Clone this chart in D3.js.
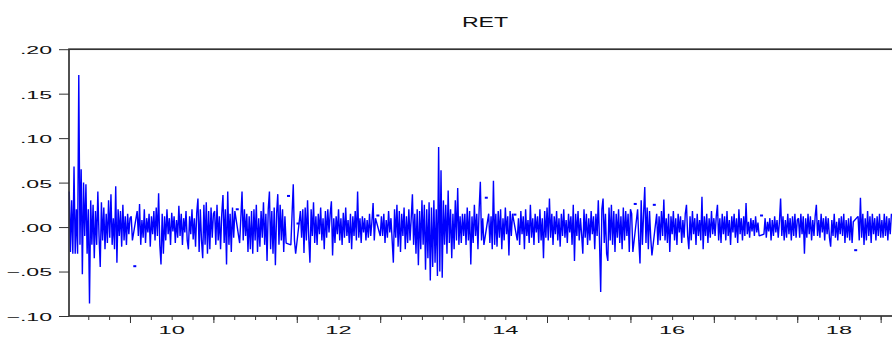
<!DOCTYPE html>
<html>
<head>
<meta charset="utf-8">
<script src="https://cdn.jsdelivr.net/npm/d3@7"></script>
<style>
  body { margin: 0; background: #fff; }
  svg text { font-family: "Liberation Sans", Arial, sans-serif; fill: #111; }
</style>
</head>
<body>
<div id="chart"></div>
<script>
// Daily returns (one value ~ every 1/70 year, null = missing obs)
const obsPerYear = 70;
const firstObs = 2009.272;

const ret2009 = [
  .04, -.028, .03, -.03, .068, -.03, .02, -.03, .171, -.02,
  .065, -.053, .05, -.01, .048, -.03, .02, -.086, .03, -.02,
  .025, -.035, .018, -.02, .04, -.01, -.045, .028, -.015, .022,
  -.025, .015, -.018, .03, -.012, .037, -.02, .01, -.025, .046,
  -.04, .02, -.01, .018, -.022, .025, -.015, .012, -.02, .015,
  -.008, .01
];
const ret2010 = [
  .012, -.015, null, -.044, null, .018, -.01, .026, -.02, .008,
  -.012, .02, -.018, .01, -.006, .015, -.022, .012, -.008, .018,
  -.015, .022, -.01, .038, -.02, -.042, .015, -.03, .012, -.015,
  .02, -.008, .01, -.02, .016, -.005, .012, -.018, .008, -.012,
  .024, -.01, .015, -.02, .01, -.006, .018, -.015, -.025, .012,
  -.008, .02, -.014, .01, -.022, .016, .032, -.028, .02, -.015,
  -.035, .025, -.02, .028, -.03, .018, -.025, .022, -.012, .015
];
const ret2011 = [
  .018, -.02, .025, -.015, .012, -.025, .015, .036, -.018, .02,
  -.042, .04, -.02, .015, -.028, .022, -.012, .018, null, .02,
  null, -.018, .01, .04, -.015, .02, -.01, .015, -.028, .012,
  -.025, .018, -.03, .02, -.015, .025, -.028, .01, -.022, .018,
  -.012, .028, -.02, .015, -.038, .02, .04, -.025, .018, -.03,
  .022, -.043, .015, .037, -.02, .025, -.015, .02, -.028, .012,
  -.018, null, .035, null, -.02, .015, .048, -.015, -.03, null
];
const ret2012 = [
  .004, null, .018, -.012, .02, -.029, .022, -.015, .03, -.012,
  -.04, .02, -.01, .028, -.018, .012, -.02, .015, -.008, .022,
  -.015, .01, -.025, .018, -.012, .02, -.006, .015, .029, -.032,
  .01, -.018, .012, -.008, .02, -.015, .01, -.02, .016, -.012,
  .022, -.01, .008, -.018, .015, -.025, .012, -.01, .018, -.015,
  .04, -.012, .01, -.018, .012, -.006, .01, -.015, .008, -.012,
  .015, -.01, .006, .027, -.015, .01, null, .013, null, -.01
];
const ret2013 = [
  .012, -.01, .015, -.018, .008, -.012, .018, -.006, .01, -.015,
  -.04, .02, -.012, .025, -.022, .018, -.028, .015, -.01, .022,
  -.025, .012, -.018, .02, -.015, .01, .037, -.02, .015, -.03,
  .02, -.043, .018, -.025, .03, -.02, .025, -.048, .02, -.035,
  .028, -.06, .022, -.045, .03, -.04, .02, -.055, .09, -.05,
  .064, -.057, .03, -.02, .025, -.03, .041, -.018, .02, -.035,
  .015, -.025, .03, -.015, .044, -.02, .012, -.018, .015, -.01
];
const ret2014 = [
  .015, -.02, .022, -.015, .018, -.042, .012, -.018, .025, -.01,
  .015, -.025, .02, .051, -.015, .01, -.02, null, .033, null,
  .015, -.018, .012, -.025, .052, -.02, .015, -.022, .018, -.012,
  .02, -.025, .01, -.015, .022, -.008, .012, -.032, .018, -.01,
  .015, null, .014, null, -.015, .01, -.02, .018, -.008, .012,
  -.025, .02, -.01, .008, -.018, .025, -.012, .01, -.02, .015,
  -.006, .012, -.018, .02, -.015, .01, -.035, .018, -.012, .022
];
const ret2015 = [
  -.015, .032, -.012, .015, -.02, .012, -.008, .018, -.015, .01,
  -.022, .015, -.01, .02, -.012, .008, -.018, .015, -.006, .012,
  -.02, .025, -.038, .015, -.01, .018, -.015, .01, -.008, -.03,
  .02, -.012, .015, -.02, .01, -.015, .018, -.008, .012, -.025,
  .015, -.01, .03, -.015, -.073, .02, .032, -.018, .015, -.03,
  -.038, .022, -.015, .025, -.02, .018, -.028, .015, -.012, .02,
  -.018, .012, -.025, .022, -.015, .018, -.01, .015, -.028, .02
];
const ret2016 = [
  .015, -.028, null, .026, null, .02, -.015, -.041, .03, -.02,
  .015, .045, -.018, .022, -.025, .018, -.012, -.032, null, .025,
  null, .015, -.02, .012, -.015, .018, -.01, .031, -.015, .01,
  -.018, .015, -.028, .012, -.008, .018, -.015, .01, -.02, .015,
  -.006, .012, -.018, .008, -.012, .015, .025, -.01, -.025, .012,
  -.015, .018, -.008, .01, -.02, .015, -.01, .008, -.015, .034,
  -.025, .012, -.01, .015, -.018, .01, -.012, .018, -.008, .01
];
const ret2017 = [
  -.01, .012, .025, -.015, .01, -.018, .015, -.008, .012, -.015,
  .018, -.01, .008, -.02, .012, -.006, .015, -.012, .01, -.018,
  .02, -.008, .01, -.015, .012, -.01, .027, -.008, .006, -.012,
  .01, -.005, .008, -.01, .012, -.006, .005, -.01, null, .013,
  null, -.008, .01, -.012, .006, -.005, .01, -.015, .008, -.01,
  .012, -.006, .008, -.012, .006, .032, -.01, .012, -.015, .008,
  -.012, .015, -.008, .01, -.015, .012, -.01, .015, -.012, .008
];
const ret2018 = [
  .01, -.012, .015, -.008, .012, -.03, .01, -.012, .015, -.008,
  .012, -.015, .008, -.01, .012, .025, -.01, .008, -.012, .015,
  -.006, .01, -.015, .012, -.008, .01, -.012, -.022, .008, -.01,
  .015, -.012, .006, -.015, .01, -.008, .012, -.01, .015, -.018,
  .008, -.012, .01, -.015, .012, -.018, .006, null, -.026, null,
  .012, -.015, .033, -.012, .015, -.02, .01, -.015, .018, -.01,
  .012, -.018, .015, -.008, .01, -.015, .012, -.01, .015, -.012
];
const ret2019 = [.008, -.012, .015, -.01, .012, -.015, .01, -.008, .015];

const yTicks = [-.10, -.05, 0, .05, .10, .15, .20];
const tickYears = d3.range(2010, 2020);
const labelYears = [2010, 2012, 2014, 2016, 2018];
const yearLabels = ['10', '12', '14', '16', '18'];

const width = 892, height = 337;
const frame = { left: 69, top: 49.2, bottom: 316 };

const series = [].concat(ret2009, ret2010, ret2011, ret2012, ret2013,
  ret2014, ret2015, ret2016, ret2017, ret2018, ret2019)
  .map((v, i) => ({ t: firstObs + i / obsPerYear, v }));

// single observations surrounded by missing values: drawn as small dashes
const isLonely = (d, i) => d.v != null
  && (i === 0 || series[i - 1].v == null)
  && (i === series.length - 1 || series[i + 1].v == null);
const lonely = series.filter(isLonely);
// at the real daily density the gaps are sub-pixel, so the line runs across them
const joined = series.filter((d, i) => d.v != null && !isLonely(d, i));

const x = d3.scaleLinear().domain([2009.269, 2019.25]).range([frame.left, 901.5]);
const y = d3.scaleLinear().domain([-0.10, 0.20]).range([frame.bottom, frame.top]);

const svg = d3.select('#chart').append('svg')
  .attr('width', width)
  .attr('height', height);

// stretch text horizontally like the original (wide EViews font)
function stretch(sel, k) {
  sel.each(function() {
    const w = this.getComputedTextLength();
    d3.select(this).attr('textLength', w * k).attr('lengthAdjust', 'spacingAndGlyphs');
  });
}

// series line
const line = d3.line()
  .x(d => x(d.t))
  .y(d => y(d.v));

svg.append('path')
  .datum(joined)
  .attr('fill', 'none')
  .attr('stroke', '#0000ff')
  .attr('stroke-width', 1.4)
  .attr('stroke-linejoin', 'bevel')
  .attr('d', line);

svg.append('g').selectAll('rect')
  .data(lonely)
  .enter()
  .append('rect')
  .attr('x', d => x(d.t) - 1.5)
  .attr('y', d => y(d.v) - 1)
  .attr('width', 3)
  .attr('height', 2)
  .attr('fill', '#0000ff');

// frame (right side runs off the picture)
svg.append('rect')
  .attr('x', frame.left)
  .attr('y', frame.top)
  .attr('width', 860)
  .attr('height', frame.bottom - frame.top)
  .attr('fill', 'none')
  .attr('stroke', '#333')
  .attr('stroke-width', 1.7);

// y axis
const yAxis = svg.append('g')
  .attr('transform', `translate(${frame.left},0)`)
  .call(d3.axisLeft(y)
    .tickValues(yTicks)
    .tickSize(10)
    .tickPadding(7)
    .tickFormat(v => d3.format('.2f')(v).replace('0.', '.')));
yAxis.select('.domain').remove();
yAxis.selectAll('line').attr('stroke', '#333');
yAxis.selectAll('text')
  .attr('dy', '0.4em')
  .style('font-size', '11px')
  .call(stretch, 2.1);

// x axis: quarterly minor ticks, yearly major ticks
const xMinor = svg.append('g')
  .attr('transform', `translate(0,${frame.bottom})`)
  .call(d3.axisBottom(x).tickValues(d3.range(2009.5, 2019.01, 0.25)).tickSize(4).tickFormat(''));
const xMajor = svg.append('g')
  .attr('transform', `translate(0,${frame.bottom})`)
  .call(d3.axisBottom(x).tickValues(tickYears).tickSize(7).tickFormat(''));
[xMinor, xMajor].forEach(g => {
  g.select('.domain').remove();
  g.selectAll('line').attr('stroke', '#333');
});

// year labels centred on the year
svg.append('g').selectAll('text')
  .data(labelYears)
  .enter()
  .append('text')
  .attr('x', d => x(d + 0.5))
  .attr('y', 334)
  .attr('text-anchor', 'middle')
  .style('font-size', '11.5px')
  .text((d, i) => yearLabels[i])
  .call(stretch, 2.05);

// title
svg.append('text')
  .attr('x', 485)
  .attr('y', 27)
  .attr('text-anchor', 'middle')
  .style('font-size', '14px')
  .text('RET')
  .call(stretch, 1.65);
</script>
</body>
</html>
